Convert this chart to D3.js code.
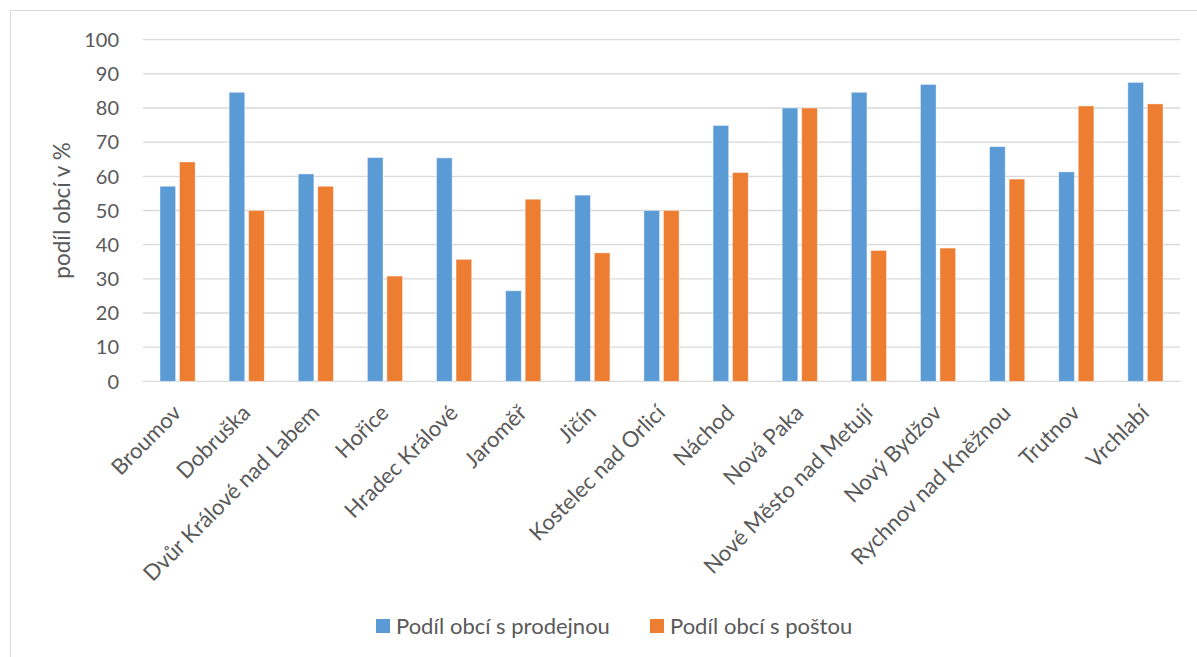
<!DOCTYPE html>
<html>
<head>
<meta charset="utf-8">
<script src="https://cdn.jsdelivr.net/npm/d3@7"></script>
<style>
  body { margin: 0; background: #fff; }
  text { font-family: Lato, "Open Sans", sans-serif; fill: #595959; }
</style>
</head>
<body>
<script>
const categories = ["Broumov", "Dobruška", "Dvůr Králové nad Labem", "Hořice", "Hradec Králové",
  "Jaroměř", "Jičín", "Kostelec nad Orlicí", "Náchod", "Nová Paka", "Nové Město nad Metují",
  "Nový Bydžov", "Rychnov nad Kněžnou", "Trutnov", "Vrchlabí"];
const prodejna = [57.1, 84.6, 60.7, 65.5, 65.4, 26.5, 54.5, 50, 74.9, 80, 84.6, 86.9, 68.7, 61.3, 87.5];
const posta = [64.2, 50, 57.1, 30.8, 35.7, 53.3, 37.6, 50, 61.1, 80, 38.3, 39.0, 59.2, 80.6, 81.2];
const seriesNames = ["Podíl obcí s prodejnou", "Podíl obcí s poštou"];
const colors = ["#5B9BD5", "#ED7D31"];
const yTicks = [0, 10, 20, 30, 40, 50, 60, 70, 80, 90, 100];

const width = 1197, height = 657;
const plotLeft = 143, plotRight = 1180, plotTop = 39.7, plotBottom = 381.3;

const svg = d3.select("body").append("svg")
  .attr("width", width)
  .attr("height", height);

// chart border
svg.append("rect")
  .attr("x", 10.5).attr("y", 10.5)
  .attr("width", 1250).attr("height", 700)
  .attr("fill", "#fff")
  .attr("stroke", "#D9D9D9");

let x0 = d3.scaleBand().domain(categories).range([plotLeft, plotRight]);
let x1 = d3.scaleBand().domain([0, 1]).range([0, x0.bandwidth()])
  .paddingInner(0.2).paddingOuter(0.87);
let y = d3.scaleLinear().domain([0, 100]).range([plotBottom, plotTop]);

// gridlines
svg.append("g")
  .selectAll("line")
  .data(yTicks)
  .enter()
  .append("line")
  .attr("x1", plotLeft).attr("x2", plotRight)
  .attr("y1", d => y(d)).attr("y2", d => y(d))
  .attr("stroke", "#D9D9D9")
  .attr("stroke-width", 1.3);

// y tick labels
svg.append("g")
  .selectAll("text")
  .data(yTicks)
  .enter()
  .append("text")
  .attr("x", 119)
  .attr("y", d => y(d))
  .attr("dy", "0.36em")
  .attr("text-anchor", "end")
  .attr("font-size", 20)
  .text(d => d);

// y axis title
svg.append("text")
  .attr("transform", "translate(70," + (plotTop + plotBottom) / 2 + ")rotate(-90)")
  .attr("text-anchor", "middle")
  .attr("font-size", 22.5)
  .text("podíl obcí v %");

// bars
let groups = svg.append("g")
  .selectAll("g")
  .data(categories)
  .enter()
  .append("g")
  .attr("transform", d => `translate(${x0(d)},0)`);

groups.selectAll("rect")
  .data((d, i) => [prodejna[i], posta[i]])
  .enter()
  .append("rect")
  .attr("x", (d, j) => x1(j))
  .attr("width", x1.bandwidth())
  .attr("y", d => y(d))
  .attr("height", d => plotBottom - y(d))
  .attr("fill", (d, j) => colors[j])
  .attr("stroke", "#fff")
  .attr("stroke-opacity", 0.5)
  .attr("stroke-width", 0.8);

// category labels
svg.append("g")
  .selectAll("text")
  .data(categories)
  .enter()
  .append("text")
  .attr("transform", d => `translate(${x0(d) + x0.bandwidth() / 2 + 5},${plotBottom + 33})rotate(-45)`)
  .attr("text-anchor", "end")
  .attr("font-size", 22)
  .text(d => d);

// legend
let legend = svg.append("g");
let lx = [376, 650];
seriesNames.forEach((name, i) => {
  legend.append("rect")
    .attr("x", lx[i]).attr("y", 619)
    .attr("width", 14).attr("height", 14)
    .attr("fill", colors[i]);
  legend.append("text")
    .attr("x", lx[i] + 20).attr("y", 626)
    .attr("dy", "0.36em")
    .attr("font-size", 22)
    .text(name);
});
</script>
</body>
</html>
